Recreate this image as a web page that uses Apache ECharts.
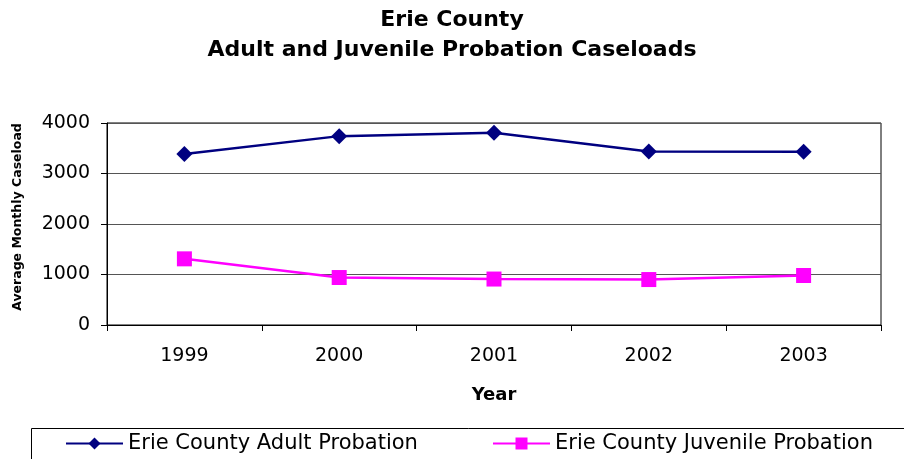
<!DOCTYPE html>
<html>
<head>
<meta charset="utf-8">
<script src="https://cdn.jsdelivr.net/npm/echarts@6/dist/echarts.min.js"></script>
<style>html,body{margin:0;padding:0;background:#fff}#c{width:904px;height:459px}</style>
</head>
<body>
<div id="c"></div>
<script>
const categories = ['1999', '2000', '2001', '2002', '2003'];
const adultProbation = [3385, 3740, 3805, 3435, 3430];
const juvenileProbation = [1310, 940, 910, 900, 980];
const yTicks = [0, 1000, 2000, 3000, 4000];
const seriesNames = ['Erie County Adult Probation', 'Erie County Juvenile Probation'];

const FONT = '"DejaVu Sans", sans-serif';
const chart = echarts.init(document.getElementById('c'));
chart.setOption({
  animation: false,
  backgroundColor: '#fff',
  title: {
    text: 'Erie County\nAdult and Juvenile Probation Caseloads',
    left: 'center', top: 0,
    textStyle: { fontFamily: FONT, fontSize: 22, fontWeight: 'bold', color: '#000', lineHeight: 30 }
  },
  grid: { left: 107, right: 23, top: 123, bottom: 134, show: true, borderColor: '#000', borderWidth: 1 },
  xAxis: {
    type: 'category', data: categories, boundaryGap: true,
    name: 'Year', nameLocation: 'middle', nameGap: 61,
    nameTextStyle: { fontFamily: FONT, fontSize: 18, fontWeight: 'bold', color: '#000' },
    axisLine: { lineStyle: { color: '#000', width: 1 } },
    axisTick: { show: true, length: 6, lineStyle: { color: '#000' } },
    axisLabel: { fontFamily: FONT, fontSize: 19, color: '#000', margin: 22 }
  },
  yAxis: {
    type: 'value', min: yTicks[0], max: yTicks[yTicks.length - 1], interval: 1000,
    name: 'Average Monthly Caseload', nameLocation: 'middle', nameGap: 83, nameRotate: 90,
    nameTextStyle: { fontFamily: FONT, fontSize: 12.5, fontWeight: 'bold', color: '#000', padding: [0, 0, 0, 14] },
    axisLine: { show: true, lineStyle: { color: '#000', width: 1 } },
    axisTick: { show: true, length: 6, inside: false, lineStyle: { color: '#000' } },
    axisLabel: { fontFamily: FONT, fontSize: 19, color: '#000', margin: 17, formatter: v => String(v) },
    splitLine: { show: true, lineStyle: { color: '#555', width: 1 } }
  },
  legend: [
    {
      data: [seriesNames[0]], left: 60, top: 428, itemWidth: 57, itemHeight: 15, itemGap: 5,
      textStyle: { fontFamily: FONT, fontSize: 21, color: '#000' }
    },
    {
      data: [seriesNames[1]], left: 487, top: 428, itemWidth: 57, itemHeight: 15, itemGap: 5,
      textStyle: { fontFamily: FONT, fontSize: 21, color: '#000' }
    }
  ],
  graphic: [
    { type: 'rect', left: 29, top: 426, shape: { width: 900, height: 40 }, style: { fill: 'none', stroke: '#000', lineWidth: 1 }, z: -1 }
  ],
  series: [
    {
      name: seriesNames[0], type: 'line', data: adultProbation,
      symbol: 'diamond', symbolSize: 16,
      lineStyle: { color: '#000080', width: 2.5 },
      itemStyle: { color: '#000080' }
    },
    {
      name: seriesNames[1], type: 'line', data: juvenileProbation,
      symbol: 'rect', symbolSize: 15,
      lineStyle: { color: '#FF00FF', width: 2.5 },
      itemStyle: { color: '#FF00FF' }
    }
  ]
});
</script>
</body>
</html>
